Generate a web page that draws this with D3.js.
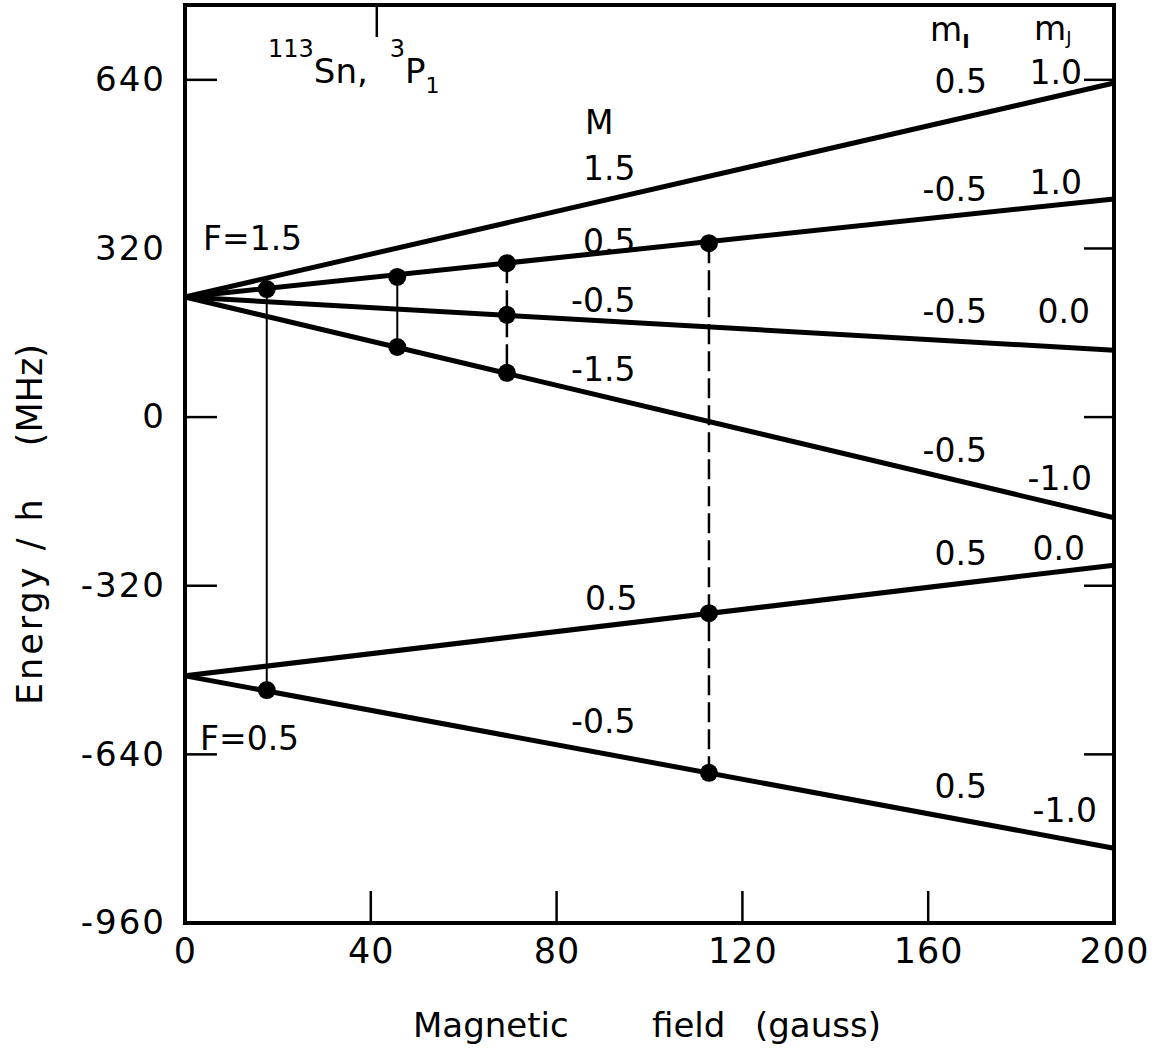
<!DOCTYPE html>
<html>
<head>
<meta charset="utf-8">
<script src="https://cdn.jsdelivr.net/npm/d3@7/dist/d3.min.js"></script>
<style>
  html, body { margin: 0; padding: 0; background: #fff; }
  svg { display: block; font-family: "DejaVu Sans", sans-serif; }
</style>
</head>
<body>
<svg id="chart" width="1168" height="1049"></svg>
<script>
// ---------- data ----------
const fieldTicks = [0, 40, 80, 120, 160, 200];
const energyTicks = [640, 320, 0, -320, -640, -960];
const energyTickLabels = ["640", "320", "0", "-320", "-640", "-960"];

// Zeeman levels: energy (MHz) at B = 0 and B = 200 gauss
const levelField = [0, 200];
const levelStart = [228, 228, 228, 228, -491, -491];
const levelEnd   = [634, 414, 127, -191, -281, -818];
const levelM  = ["1.5", "0.5", "-0.5", "-1.5", "0.5", "-0.5"];
const levelMI = ["0.5", "-0.5", "-0.5", "-0.5", "0.5", "0.5"];
const levelMJ = ["1.0", "1.0", "0.0", "-1.0", "0.0", "-1.0"];

// Observed transitions (field in gauss, energies of the dots in MHz)
const transField = [17.6, 45.7, 69.3, 112.8];
const transEnergies = [[243, -518], [266, 133], [292, 194, 84], [330, -372, -675]];
const transDashed = [false, false, true, true];

// ---------- layout ----------
const svg = d3.select("#chart");
const x = d3.scaleLinear().domain([0, 200]).range([185, 1114]);
const y = d3.scaleLinear().domain([-960, 782]).range([923, 5]);
const X0 = x(0), X1 = x(200), Y0 = y(-960), Y1 = y(782);

// frame
svg.append("rect")
  .attr("x", X0).attr("y", Y1)
  .attr("width", X1 - X0).attr("height", Y0 - Y1)
  .attr("fill", "none").attr("stroke", "#000").attr("stroke-width", 4);

// inward ticks
const tickLen = 32;
svg.append("g").selectAll("line").data([40, 80, 120, 160]).join("line")
  .attr("x1", d => x(d)).attr("x2", d => x(d))
  .attr("y1", Y0).attr("y2", Y0 - tickLen)
  .attr("stroke", "#000").attr("stroke-width", 2.5);
svg.append("g").selectAll("line").data([40]).join("line")
  .attr("x1", d => x(d) + 6).attr("x2", d => x(d) + 6)
  .attr("y1", Y1).attr("y2", Y1 + tickLen)
  .attr("stroke", "#000").attr("stroke-width", 2.5);
svg.append("g").selectAll("line").data([640, 0, -320, -640]).join("line")
  .attr("x1", X0).attr("x2", X0 + tickLen)
  .attr("y1", d => y(d)).attr("y2", d => y(d))
  .attr("stroke", "#000").attr("stroke-width", 2.5);
svg.append("g").selectAll("line").data([640, 320, 0, -320, -640]).join("line")
  .attr("x1", X1).attr("x2", X1 - 30)
  .attr("y1", d => y(d)).attr("y2", d => y(d))
  .attr("stroke", "#000").attr("stroke-width", 2.5);

// axis labels via d3 axes (tick marks drawn above)
const yAxis = svg.append("g").attr("transform", `translate(${X0},0)`)
  .call(d3.axisLeft(y).tickValues(energyTicks).tickSize(0).tickPadding(19)
    .tickFormat((d, i) => energyTickLabels[i]));
yAxis.select(".domain").remove();
yAxis.selectAll("text").attr("font-size", 34).attr("font-family", "DejaVu Sans")
  .attr("letter-spacing", 2).attr("fill", "#000");

const xAxis = svg.append("g").attr("transform", `translate(0,${Y0})`)
  .call(d3.axisBottom(x).tickValues(fieldTicks).tickSize(0).tickPadding(15)
    .tickFormat(d3.format("d")));
xAxis.select(".domain").remove();
xAxis.selectAll("text").attr("font-size", 35).attr("font-family", "DejaVu Sans")
  .attr("letter-spacing", 1).attr("fill", "#000");

// axis titles
const xt = svg.append("text").attr("y", 1037).attr("font-size", 34);
xt.append("tspan").attr("x", 413).text("Magnetic");
xt.append("tspan").attr("x", 652).text("field");
xt.append("tspan").attr("x", 755).text("(gauss)");

const yt = svg.append("text")
  .attr("transform", "translate(42,705) rotate(-90)")
  .attr("font-size", 35);
yt.append("tspan").attr("letter-spacing", 3).text("Energy / h");
yt.append("tspan").attr("dx", 50).text("(MHz)");

// level lines
const line = d3.line().x(d => x(d[0])).y(d => y(d[1]));
svg.append("g").selectAll("path")
  .data(levelStart.map((s, i) => [[levelField[0], s], [levelField[1], levelEnd[i]]]))
  .join("path")
  .attr("d", line)
  .attr("fill", "none").attr("stroke", "#000").attr("stroke-width", 5)
  .attr("stroke-linecap", "butt");

// transition connectors
const tg = svg.append("g");
transField.forEach((f, i) => {
  const es = transEnergies[i];
  tg.append("line")
    .attr("x1", x(f)).attr("x2", x(f))
    .attr("y1", y(d3.max(es))).attr("y2", y(d3.min(es)))
    .attr("stroke", "#000").attr("stroke-width", transDashed[i] ? 2.5 : 2)
    .attr("stroke-dasharray", transDashed[i] ? "20,7" : null);
  tg.selectAll(null).data(es).join("circle")
    .attr("cx", x(f)).attr("cy", d => y(d)).attr("r", 9).attr("fill", "#000");
});

// annotation text
const fs = 33;
const ann = svg.append("g").attr("font-size", fs).attr("fill", "#000");
ann.append("text").attr("x", 203).attr("y", 250).text("F=1.5");
ann.append("text").attr("x", 200).attr("y", 750).text("F=0.5");
ann.append("text").attr("x", 585).attr("y", 134).text("M");

// M labels (positions along lines)
const mPos = [[583, 180], [583, 253], [571, 312], [571, 381], [585, 610], [571, 733]];
ann.selectAll(null).data(levelM).join("text")
  .attr("x", (d, i) => mPos[i][0]).attr("y", (d, i) => mPos[i][1]).text(d => d);

// mI / mJ columns
const miPos = [[987, 93], [987, 201], [987, 323], [987, 462], [987, 565], [987, 798]];
const mjPos = [[1082, 84], [1082, 194], [1090, 323], [1092, 490], [1085, 560], [1097, 822]];
ann.selectAll(null).data(levelMI).join("text")
  .attr("text-anchor", "end")
  .attr("x", (d, i) => miPos[i][0]).attr("y", (d, i) => miPos[i][1]).text(d => d);
ann.selectAll(null).data(levelMJ).join("text")
  .attr("text-anchor", "end")
  .attr("x", (d, i) => mjPos[i][0]).attr("y", (d, i) => mjPos[i][1]).text(d => d);

// column headers
const h1 = ann.append("text").attr("x", 930).attr("y", 41);
h1.append("tspan").text("m");
h1.append("tspan").attr("font-size", 20).attr("dy", 7).attr("font-weight", "bold").text("I");
const h2 = ann.append("text").attr("x", 1034).attr("y", 40);
h2.append("tspan").text("m");
h2.append("tspan").attr("font-size", 18).attr("dy", 4).text("J");

// title 113Sn, 3P1
const t = svg.append("text").attr("x", 268).attr("y", 83).attr("font-size", 34);
t.append("tspan").attr("font-size", 24).attr("dy", -26).text("113");
t.append("tspan").attr("dy", 26).text("Sn,");
t.append("tspan").attr("font-size", 24).attr("dx", 22).attr("dy", -26).text("3");
t.append("tspan").attr("dy", 26).text("P");
t.append("tspan").attr("font-size", 22).attr("dy", 10).text("1");
</script>
</body>
</html>
